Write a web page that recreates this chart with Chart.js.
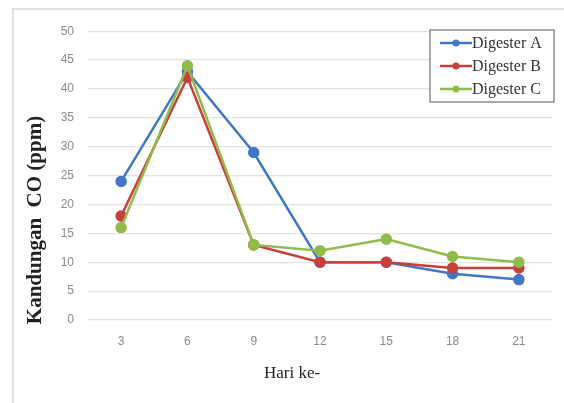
<!DOCTYPE html>
<html>
<head>
<meta charset="utf-8">
<script src="https://cdn.jsdelivr.net/npm/chart.js@4"></script>
<style>
  html, body { margin: 0; padding: 0; background: #fff; }
  #frame {
    position: absolute; left: 12px; top: 8px;
    width: 552px; height: 395px;
    border-left: 2px solid #e0e0e0; border-top: 2px solid #e0e0e0;
  }
  #c { display: block; }
</style>
</head>
<body>
<div id="frame"><canvas id="c" width="550" height="393"></canvas></div>
<script>
const days = ['3', '6', '9', '12', '15', '18', '21'];
const digesterA = [24, 43, 29, 10, 10, 8, 7];
const digesterB = [18, 42, 13, 10, 10, 9, 9];
const digesterC = [16, 44, 13, 12, 14, 11, 10];
const seriesNames = ['Digester A', 'Digester B', 'Digester C'];
const colors = ['#4078c8', '#c8403c', '#8fbc4a'];

const serif = "'Liberation Serif', 'DejaVu Serif', serif";

// order: later series sit on top, like the original
function line(label, data, color, order) {
    return {
        label, data, order,
        borderColor: color,
        backgroundColor: color,
        borderWidth: 2.5,
        pointRadius: 4.5,
        pointHoverRadius: 4.5,
        tension: 0,
        fill: false,
    };
}

// axis titles + boxed legend, placed like the original
const extras = {
    id: 'extras',
    afterDraw(chart) {
        const ctx = chart.ctx;
        ctx.save();
        ctx.fillStyle = '#222';
        ctx.textAlign = 'center';
        ctx.textBaseline = 'middle';

        // y title
        ctx.save();
        ctx.translate(22, 210);
        ctx.rotate(-Math.PI / 2);
        ctx.font = "bold 21px " + serif;
        ctx.fillText('Kandungan  CO (ppm)', 0, 0);
        ctx.restore();

        // x title
        ctx.font = "17px " + serif;
        ctx.fillText('Hari ke-', 278, 364);

        // legend
        const bx = 416, by = 20, bw = 124, bh = 72;
        ctx.strokeStyle = '#8c8c8c';
        ctx.lineWidth = 1.5;
        ctx.fillStyle = '#fff';
        ctx.fillRect(bx, by, bw, bh);
        ctx.strokeRect(bx, by, bw, bh);
        ctx.textAlign = 'left';
        ctx.font = "16px " + serif;
        chart.data.datasets.forEach((ds, i) => {
            const y = by + 13 + i * 23;
            ctx.strokeStyle = ds.borderColor;
            ctx.lineWidth = 2.5;
            ctx.beginPath();
            ctx.moveTo(bx + 10, y);
            ctx.lineTo(bx + 42, y);
            ctx.stroke();
            ctx.fillStyle = ds.borderColor;
            ctx.beginPath();
            ctx.arc(bx + 26, y, 3.5, 0, Math.PI * 2);
            ctx.fill();
            ctx.fillStyle = '#333';
            ctx.fillText(ds.label, bx + 42, y + 1);
        });
        ctx.restore();
    }
};

new Chart(document.getElementById('c'), {
    type: 'line',
    data: {
        labels: days,
        datasets: [
            line(seriesNames[0], digesterA, colors[0], 3),
            line(seriesNames[1], digesterB, colors[1], 2),
            line(seriesNames[2], digesterC, colors[2], 1),
        ]
    },
    options: {
        responsive: false,
        animation: false,
        layout: {padding: {top: 14, right: 12, bottom: 0, left: 0}},
        plugins: {legend: {display: false}, tooltip: {enabled: false}},
        scales: {
            x: {
                offset: true,
                grid: {display: false, drawTicks: false},
                border: {display: false},
                ticks: {color: '#8a8a8a', padding: 14, font: {family: "'Liberation Sans', sans-serif", size: 12}},
                afterFit: (s) => { s.height = 83; }
            },
            y: {
                min: 0, max: 50,
                grid: {color: '#e3e3e3', lineWidth: 1.2, drawTicks: false},
                border: {display: false},
                ticks: {stepSize: 5, color: '#8a8a8a', padding: 14, font: {family: "'Liberation Sans', sans-serif", size: 12}},
                afterFit: (s) => { s.width = 74; }
            }
        }
    },
    plugins: [extras]
});
</script>
</body>
</html>
